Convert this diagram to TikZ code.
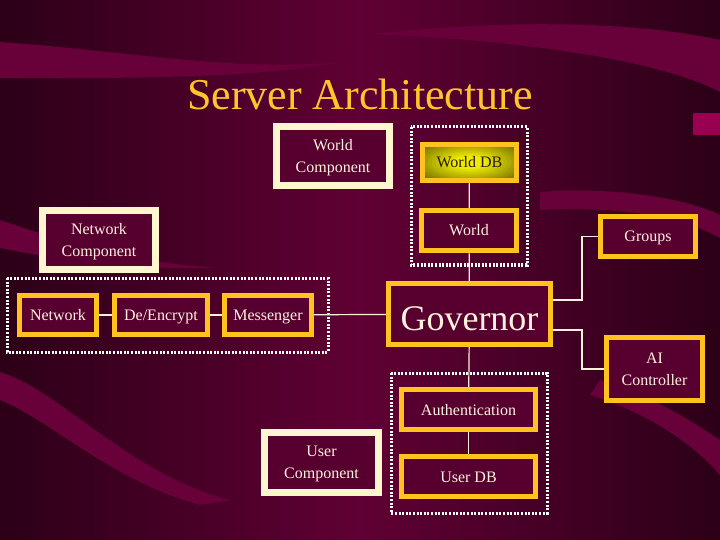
\documentclass[tikz,border=0pt]{standalone}
\usepackage{fontspec}
\setmainfont{Liberation Serif}
\usetikzlibrary{calc}

\definecolor{bgdeep}{HTML}{2C0017}
\definecolor{bgmaroon}{HTML}{600034}
\definecolor{bgband}{HTML}{68003A}
\definecolor{bgspot}{HTML}{9A0052}
\definecolor{boxfill}{HTML}{570030}
\definecolor{goldline}{HTML}{FFC21E}
\definecolor{creamline}{HTML}{FFF6CF}
\definecolor{textcream}{HTML}{FFF2DC}
\definecolor{titlegold}{HTML}{FFC62A}
\definecolor{dbyellow}{HTML}{EEEA00}
\definecolor{dbolive}{HTML}{6E6A00}
\definecolor{dbtext}{HTML}{2A1A00}

\begin{document}
\begin{tikzpicture}[x=1bp, y=-1bp,
    goldbox/.style={draw=goldline, line width=5bp, fill=boxfill, text=textcream,
        font=\fontsize{16bp}{22bp}\selectfont, align=center, inner sep=0pt},
    compbox/.style={draw=creamline, line width=7bp, fill=boxfill, text=textcream,
        font=\fontsize{16bp}{22bp}\selectfont, align=center, inner sep=0pt,
        text depth=-3bp},
    oneline/.style={text height=11bp, text depth=0bp},
    groupbox/.style={draw=white, line width=3bp, dash pattern=on 2bp off 1.6bp},
    link/.style={draw=textcream, line width=1.2bp}
]
% background
\useasboundingbox (0,0) rectangle (720,540);
\shade[left color=bgdeep, right color=bgdeep, middle color=bgmaroon] (0,0) rectangle (720,540);
\fill[bgband] (0,42) .. controls (120,50) and (230,72) .. (340,62)
    .. controls (250,80) and (100,78) .. (0,78) -- cycle;
\fill[bgband] (370,34) .. controls (480,22) and (620,18) .. (720,40)
    -- (720,92) .. controls (660,60) and (520,40) .. (370,34) -- cycle;
\fill[bgspot] (693,113) rectangle (720,135);
\fill[bgband] (0,220) .. controls (60,240) and (120,262) .. (220,268)
    .. controls (120,270) and (50,258) .. (0,248) -- cycle;
\fill[bgband] (540,192) .. controls (620,186) and (690,200) .. (720,215)
    -- (720,238) .. controls (680,215) and (610,206) .. (540,210) -- cycle;
\fill[bgband] (0,372) .. controls (60,390) and (130,475) .. (230,500)
    -- (200,505) .. controls (110,480) and (50,420) .. (0,400) -- cycle;
\fill[bgband] (600,380) .. controls (650,395) and (690,420) .. (720,440)
    -- (720,475) .. controls (690,440) and (640,410) .. (590,395) -- cycle;

% title
\node[text=titlegold, font=\fontsize{44bp}{50bp}\selectfont] (title) at (360,94) {Server Architecture};

% groupings
\draw[groupbox] (411,127) rectangle (527,265);
\draw[groupbox] (7,278) rectangle (328,352);
\draw[groupbox] (391,373) rectangle (547,513);

% components
\node[compbox, minimum width=113bp, minimum height=59bp] (wcomp) at (333,156) {World\\Component};
\node[compbox, minimum width=113bp, minimum height=59bp] (ncomp) at (99,240) {Network\\Component};
\node[compbox, minimum width=114bp, minimum height=60bp] (ucomp) at (321.5,462.5) {User\\Component};

% glow behind World DB
\begin{scope}
\clip (422.5,144.5) rectangle (516.5,180.5);
\foreach \k in {0,...,12} {
  \pgfmathtruncatemacro{\pc}{\k*100/12}
  \fill[dbyellow!\pc!dbolive] (469.5,162.5)
      ellipse [x radius={(66-4*\k)*1bp}, y radius={(26-1.6*\k)*1bp}];
}
\end{scope}

% modules
\node[goldbox, oneline, minimum width=94bp, minimum height=36bp,
    fill=none, text=dbtext] (wdb) at (469.5,162.5) {World DB};
\node[goldbox, oneline, minimum width=95bp, minimum height=40bp] (world) at (469,230.5) {World};
\node[goldbox, oneline, minimum width=77bp, minimum height=39bp] (net) at (58,315) {Network};
\node[goldbox, oneline, minimum width=93bp, minimum height=39bp] (enc) at (161,315) {De/Encrypt};
\node[goldbox, oneline, minimum width=87bp, minimum height=39bp] (msg) at (268,315) {Messenger};
\node[goldbox, minimum width=162bp, minimum height=61bp, text height=32bp, text depth=0bp,
    font=\fontsize{36bp}{40bp}\selectfont] (gov) at (469.5,314) {Governor};
\node[goldbox, oneline, minimum width=95bp, minimum height=40bp] (groups) at (648,236.5) {Groups};
\node[goldbox, minimum width=96bp, minimum height=63bp] (ai) at (654.5,369) {AI\\Controller};
\node[goldbox, oneline, minimum width=134bp, minimum height=40bp] (auth) at (468.5,409.5) {Authentication};
\node[goldbox, oneline, minimum width=134bp, minimum height=40bp] (udb) at (468.5,476.5) {User DB};

% connectors
\draw[link] (wdb) -- (world);
\draw[link] (world) -- (gov);
\draw[link] (net) -- (enc);
\draw[link] (enc) -- (msg);
\draw[link] (msg) -- (gov);
\draw[link] (gov.east |- 0,300) -- (582,300) |- (groups.west);
\draw[link] (gov.east |- 0,330) -- (582,330) |- (ai.west);
\draw[link] (gov) -- (auth);
\draw[link] (auth) -- (udb);
\end{tikzpicture}
\end{document}
